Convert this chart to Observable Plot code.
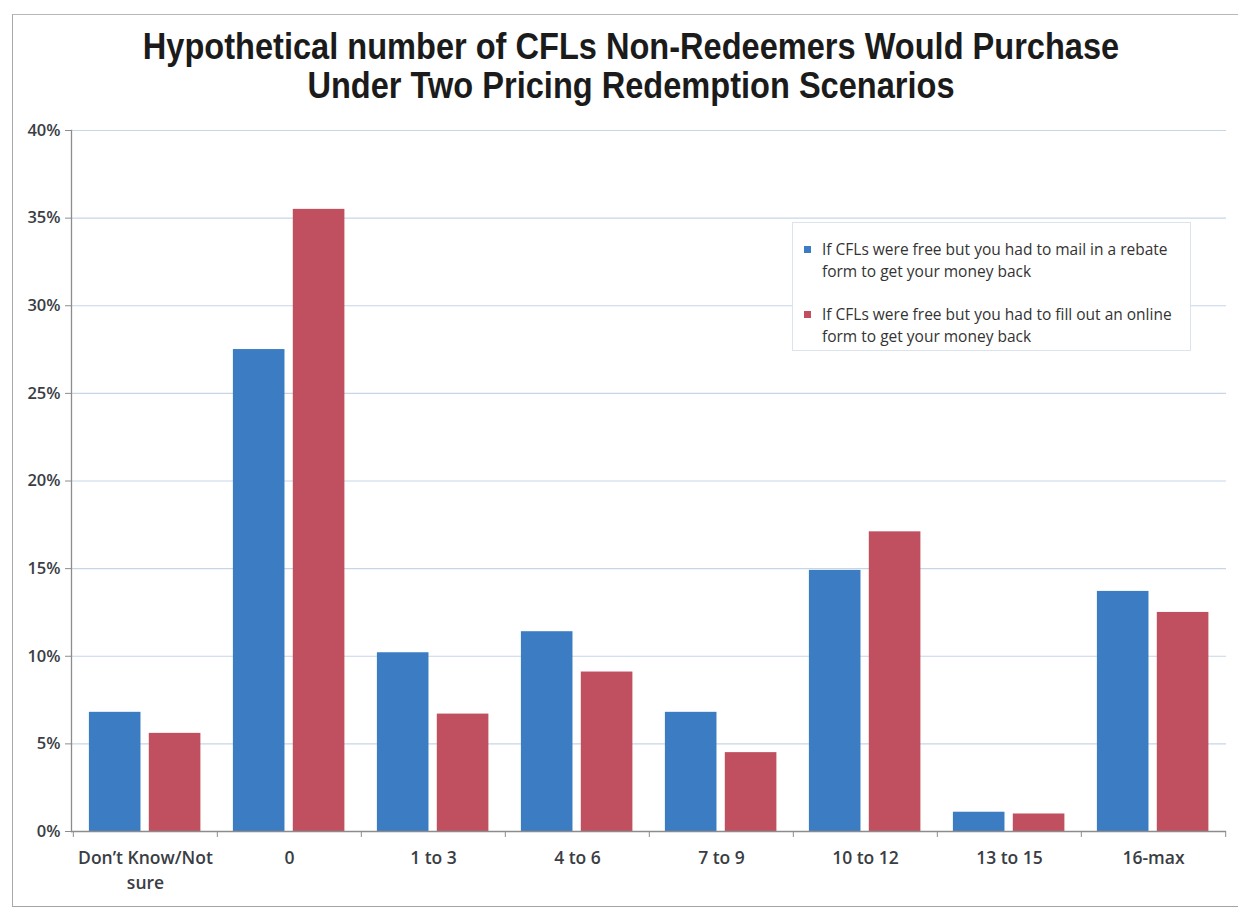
<!DOCTYPE html>
<html>
<head>
<meta charset="utf-8">
<script src="https://cdn.jsdelivr.net/npm/d3@7"></script>
<script src="https://cdn.jsdelivr.net/npm/@observablehq/plot@0.6"></script>
<style>
  body { margin: 0; background: #fff; }
  #page { position: relative; width: 1238px; height: 909px; overflow: hidden; background: #fff; }
  #sheet {
    position: absolute; left: 12px; top: 14px; width: 1240px; height: 891px;
    border-left: 1.5px solid #a8a8a8; border-top: 1.5px solid #b8b8b8; border-bottom: 1.5px solid #a4a4a4;
  }
  #title {
    position: absolute; left: 12px; width: 1238px; top: 27px; text-align: center;
    font-family: "Liberation Sans", Arial, sans-serif;
    font-weight: bold; font-size: 37px; line-height: 39px; color: #1b1b1b;
    transform: scaleX(0.88); transform-origin: 619px 0;
  }
  #chart { position: absolute; left: 0; top: 110px; }
  #legend {
    position: absolute; left: 792px; top: 222px; width: 397px; height: 127px;
    border: 1px solid #dbe3ec; background: #fff;
    font-family: "Open Sans", sans-serif; font-size: 15.5px; line-height: 21.5px; color: #333;
  }
  .item { position: absolute; left: 29px; width: 368px; white-space: nowrap; }
  .swatch { position: absolute; left: -18px; top: 7px; width: 7px; height: 7px; }
</style>
</head>
<body>
<div id="page">
  <div id="sheet"></div>
  <div id="title">Hypothetical number of CFLs Non-Redeemers Would Purchase<br>Under Two Pricing Redemption Scenarios</div>
  <div id="chart"></div>
  <div id="legend"></div>
</div>
<script>
// Purchase-count buckets on the x axis
const categories = ["Don’t Know/Not\nsure", "0", "1 to 3", "4 to 6", "7 to 9", "10 to 12", "13 to 15", "16-max"];

// Share of non-redeemers (%) under each redemption scenario
const mailRebate = [6.8, 27.5, 10.2, 11.4, 6.8, 14.9, 1.1, 13.7];
const onlineForm = [5.6, 35.5, 6.7, 9.1, 4.5, 17.1, 1.0, 12.5];

const seriesNames = [
  "If CFLs were free but you had to mail in a rebate form to get your money back",
  "If CFLs were free but you had to fill out an online form to get your money back"
];
const seriesColors = ["#3b7cc3", "#c0505f"];

// Percentage ticks on the y axis
const yTicks = [0, 5, 10, 15, 20, 25, 30, 35, 40];

const W = 1238, H = 790, ML = 71, MR = 12, MT = 20, MB = 69;
const step = (W - ML - MR) / categories.length;
const padOuter = 0.11 * step, barW = 0.36 * step, gap = 0.055 * step;

const mailRows = categories.map((c, i) => ({category: c, value: mailRebate[i]}));
const onlineRows = categories.map((c, i) => ({category: c, value: onlineForm[i]}));

const axisGray = "#8c8c8c";
const textColor = "#3a3d44";

const chart = Plot.plot({
  width: W, height: H,
  marginLeft: ML, marginRight: MR, marginTop: MT, marginBottom: MB,
  style: {fontFamily: "'Open Sans', sans-serif", background: "transparent", color: textColor},
  x: {domain: categories, padding: 0, label: null},
  y: {domain: [0, 40], label: null},
  marks: [
    Plot.gridY(yTicks.filter(d => d > 0), {stroke: "#c6d6e8", strokeOpacity: 1, strokeWidth: 1.2}),
    Plot.barY(mailRows, {
      x: "category", y: "value", fill: seriesColors[0],
      insetLeft: padOuter, insetRight: step - padOuter - barW
    }),
    Plot.barY(onlineRows, {
      x: "category", y: "value", fill: seriesColors[1],
      insetLeft: padOuter + barW + gap, insetRight: step - padOuter - 2 * barW - gap
    }),
    Plot.ruleY([0], {stroke: axisGray, strokeWidth: 1.3}),
    Plot.frame({anchor: "left", stroke: axisGray, strokeWidth: 1.3}),
    Plot.axisY(yTicks, {
      tickSize: 6, tickPadding: 5, stroke: axisGray,
      tickFormat: d => d + "%", fontSize: 16.5, fontWeight: 600, label: null
    }),
    // category boundary ticks below the baseline
    Plot.axisX(categories, {
      tickSize: 6, dx: -step / 2, stroke: axisGray, tickFormat: () => "", label: null
    }),
    Plot.axisX([categories[categories.length - 1]], {
      tickSize: 6, dx: step / 2, stroke: axisGray, tickFormat: () => "", label: null
    }),
    Plot.axisX(categories, {
      tickSize: 0, tickPadding: 14, fontSize: 17.5, fontWeight: 600, lineHeight: 1.45, label: null
    })
  ]
});
document.getElementById("chart").appendChild(chart);

// Legend
const legend = document.getElementById("legend");
const tops = [16, 81];
seriesNames.forEach((name, i) => {
  const item = document.createElement("div");
  item.className = "item";
  item.style.top = tops[i] + "px";
  const sw = document.createElement("span");
  sw.className = "swatch";
  sw.style.background = seriesColors[i];
  item.appendChild(sw);
  const words = name.split(" form ");
  item.appendChild(document.createTextNode(words[0]));
  item.appendChild(document.createElement("br"));
  item.appendChild(document.createTextNode("form " + words[1]));
  legend.appendChild(item);
});
</script>
</body>
</html>
